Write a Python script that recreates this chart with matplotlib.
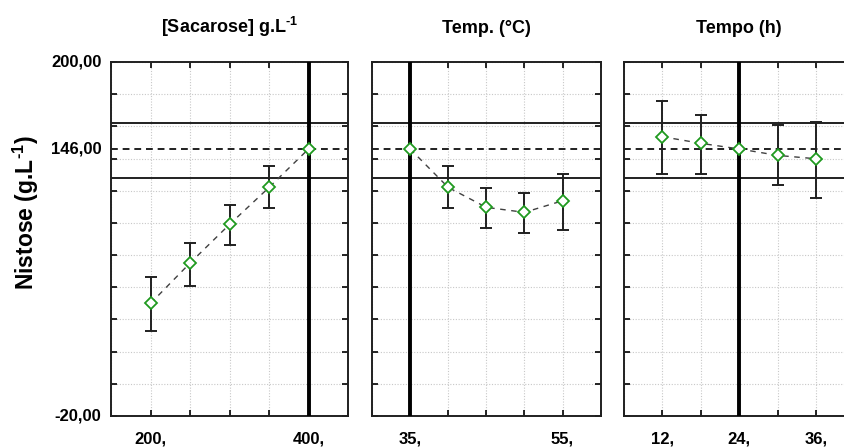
#!/usr/bin/env python3
"""Perfis de valores preditos para Nistose vs. nivel de cada fator."""

import matplotlib
matplotlib.use("Agg")
import matplotlib.pyplot as plt
import matplotlib.transforms as mtransforms

plt.rcParams["font.family"] = ["Liberation Sans", "DejaVu Sans"]
plt.rcParams["font.weight"] = "bold"
plt.rcParams["mathtext.fontset"] = "custom"
plt.rcParams["mathtext.rm"] = "Liberation Sans:bold"
plt.rcParams["mathtext.bf"] = "Liberation Sans:bold"
plt.rcParams["mathtext.default"] = "bf"

# predicted response at the chosen levels and its limits
pred_value = 146.0
limit_hi = 162.3
limit_lo = 128.1

# [Sacarose] g/L
sac_levels = [200, 250, 300, 350, 400]
sac_mean = [50.0, 75.1, 99.1, 122.1, 146.0]
sac_lo = [33.0, 61.0, 86.1, 109.3, None]
sac_hi = [66.2, 87.3, 111.1, 135.4, None]
sac_current = 400
sac_ticks = [150, 200, 250, 300, 350, 400, 450]
sac_ticklabels = ["", "200,", "", "", "", "400,", ""]

# Temperatura
temp_levels = [35, 40, 45, 50, 55]
temp_mean = [146.0, 122.1, 109.7, 106.6, 113.8]
temp_lo = [None, 109.3, 96.6, 93.5, 95.6]
temp_hi = [None, 135.4, 121.7, 118.6, 130.4]
temp_current = 35
temp_ticks = [30, 35, 40, 45, 50, 55, 60]
temp_ticklabels = ["", "35,", "", "", "", "55,", ""]

# Tempo
time_levels = [12, 18, 24, 30, 36]
time_mean = [153.6, 149.5, 146.0, 142.0, 139.9]
time_lo = [130.2, 130.2, None, 123.7, 115.5]
time_hi = [176.0, 166.9, None, 160.7, 162.5]
time_current = 24
time_ticks = [6, 12, 18, 24, 30, 36, 42]
time_ticklabels = ["", "12,", "", "24,", "", "36,", ""]

titles = ["[Sacarose] g.L$^{\\text{-}1}$", "Temp. (°C)", "Tempo (h)"]
y_ticks = list(range(-20, 201, 20))

GREEN = "#1f9a1f"


def draw_panel(ax, levels, mean, lo, hi, current, ticks, ticklabels, title):
    ax.set_xlim(ticks[0], ticks[-1])
    ax.set_ylim(-20, 200)
    ax.set_xticks(ticks)
    ax.set_xticklabels(ticklabels)
    ax.set_yticks(y_ticks)
    ax.set_yticklabels([])
    ax.grid(True, color="#c8c8c8", linestyle=(0, (1, 1.5)), linewidth=0.8)
    ax.tick_params(direction="in", length=4, width=1.2, top=True, right=True,
                   labelsize=12, pad=11.5)
    for sp in ax.spines.values():
        sp.set_linewidth(1.4)
        sp.set_color("#202020")

    ax.axhline(limit_hi, color="#202020", lw=1.4, zorder=2)
    ax.axhline(limit_lo, color="#202020", lw=1.4, zorder=2)
    ax.axhline(pred_value, color="#202020", lw=1.4, ls=(0, (3.5, 2.5)), zorder=2)
    ax.axvline(current, color="black", lw=2.8, zorder=3)

    ax.plot(levels, mean, color="#404040", lw=1.0, ls=(0, (4, 4)), zorder=4)

    xs = [x for x, l in zip(levels, lo) if l is not None]
    ys = [m for m, l in zip(mean, lo) if l is not None]
    lows = [m - l for m, l in zip(mean, lo) if l is not None]
    highs = [h - m for m, h in zip(mean, hi) if h is not None]
    ax.errorbar(xs, ys, yerr=[lows, highs], fmt="none", ecolor="#202020",
                elinewidth=1.4, capsize=4, capthick=1.4, zorder=5)
    ax.plot(levels, mean, linestyle="none", marker="D", markersize=6,
            mfc="white", mec=GREEN, mew=1.3, zorder=6)

    ax.set_title(title, fontsize=13, fontweight="bold", pad=21)
    for lab in ax.get_xticklabels():
        lab.set_fontweight("bold")


def main():
    fig = plt.figure(figsize=(8.45, 4.48), dpi=100)
    bottom, height = 0.0714, 0.790
    ax1 = fig.add_axes([0.1314, bottom, 0.2805, height])
    ax2 = fig.add_axes([0.4402, bottom, 0.2707, height])
    ax3 = fig.add_axes([0.7385, bottom, 0.2728, height])

    draw_panel(ax1, sac_levels, sac_mean, sac_lo, sac_hi, sac_current,
               sac_ticks, sac_ticklabels, titles[0])
    draw_panel(ax2, temp_levels, temp_mean, temp_lo, temp_hi, temp_current,
               temp_ticks, temp_ticklabels, titles[1])
    draw_panel(ax3, time_levels, time_mean, time_lo, time_hi, time_current,
               time_ticks, time_ticklabels, titles[2])

    # y labels only on the first panel
    trans = mtransforms.blended_transform_factory(ax1.transAxes, ax1.transData)
    for val, txt in [(200, "200,00"), (pred_value, "146,00"), (-20, "-20,00")]:
        ax1.text(-0.04, val, txt, transform=trans, ha="right", va="center",
                 fontsize=12, fontweight="bold")

    fig.text(0.031, 0.526, "Nistose (g.L$^{\\text{-}1}$)", rotation=90,
             ha="center", va="center", fontsize=16.5, fontweight="bold")

    fig.savefig("out.png", dpi=100)


if __name__ == "__main__":
    main()
